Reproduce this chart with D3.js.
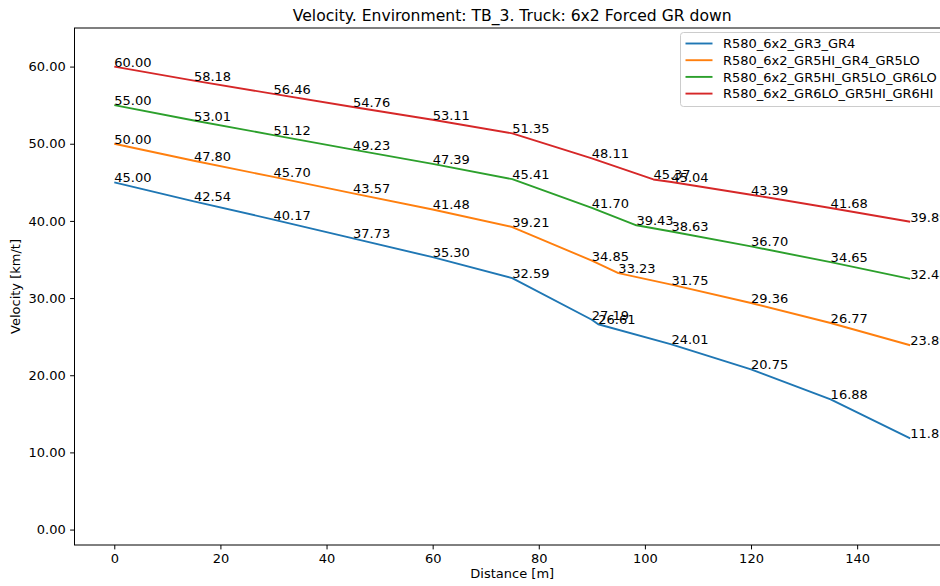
<!DOCTYPE html>
<html>
<head>
<meta charset="utf-8">
<script src="https://cdn.jsdelivr.net/npm/d3@7"></script>
<style>
  body { margin: 0; background: #fff; }
  svg { display: block; font-family: "DejaVu Sans", sans-serif; }
</style>
</head>
<body>
<div id="container"></div>
<script>
// data
var seriesNames = ["R580_6x2_GR3_GR4", "R580_6x2_GR5HI_GR4_GR5LO",
                   "R580_6x2_GR5HI_GR5LO_GR6LO", "R580_6x2_GR6LO_GR5HI_GR6HI"];

var distBlue   = [0, 15, 30, 45, 60, 75, 90, 91.2, 105, 120, 135, 150];
var distOrange = [0, 15, 30, 45, 60, 75, 90, 95.0, 105, 120, 135, 150];
var distGreen  = [0, 15, 30, 45, 60, 75, 90, 98.4, 105, 120, 135, 150];
var distRed    = [0, 15, 30, 45, 60, 75, 90, 101.6, 105, 120, 135, 150];

var velBlue   = [45.00, 42.54, 40.17, 37.73, 35.30, 32.59, 27.19, 26.61, 24.01, 20.75, 16.88, 11.83];
var velOrange = [50.00, 47.80, 45.70, 43.57, 41.48, 39.21, 34.85, 33.23, 31.75, 29.36, 26.77, 23.89];
var velGreen  = [55.00, 53.01, 51.12, 49.23, 47.39, 45.41, 41.70, 39.43, 38.63, 36.70, 34.65, 32.48];
var velRed    = [60.00, 58.18, 56.46, 54.76, 53.11, 51.35, 48.11, 45.37, 45.04, 43.39, 41.68, 39.89];

var xTicks = [0, 20, 40, 60, 80, 100, 120, 140];
var yTicks = [0, 10, 20, 30, 40, 50, 60];

var color = ["#1f77b4", "#ff7f0e", "#2ca02c", "#d62728"];

var series = [
    { name: seriesNames[0], x: distBlue,   y: velBlue },
    { name: seriesNames[1], x: distOrange, y: velOrange },
    { name: seriesNames[2], x: distGreen,  y: velGreen },
    { name: seriesNames[3], x: distRed,    y: velRed }
];

var svg_width = 940,
    svg_height = 586,
    fs = 13;

// axes box (right side goes past the picture edge, like the original)
var axL = 74.5, axR = 950, axT = 28, axB = 545;

var x = d3.scaleLinear().domain([-7.5, 157.5]).range([axL, axR]);
var y = d3.scaleLinear().domain([-2, 65]).range([axB, axT]);

var svg = d3.select("#container").append("svg")
    .attr("width", svg_width)
    .attr("height", svg_height);

svg.append("clipPath").attr("id", "plot")
   .append("rect")
   .attr("x", axL).attr("y", axT)
   .attr("width", axR - axL).attr("height", axB - axT);

// lines
var line = d3.line()
    .x(function(d) { return x(d[0]) })
    .y(function(d) { return y(d[1]) });

var g = svg.append("g").attr("clip-path", "url(#plot)");

series.forEach(function(s, i) {
    var pts = s.x.map(function(v, j) { return [v, s.y[j]] });
    g.append("path")
        .attr("d", line(pts))
        .attr("fill", "none")
        .attr("stroke", color[i])
        .attr("stroke-width", 1.9)
        .attr("stroke-linejoin", "round");
});

// value labels at every point (left / baseline like matplotlib text)
series.forEach(function(s) {
    svg.append("g").selectAll("text")
        .data(s.x.map(function(v, j) { return [v, s.y[j]] }))
        .enter().append("text")
        .attr("x", function(d) { return x(d[0]) })
        .attr("y", function(d) { return y(d[1]) })
        .attr("font-size", fs)
        .attr("fill", "#000")
        .text(function(d) { return d[1].toFixed(2) });
});

// axes
var xAxis = d3.axisBottom(x).tickValues(xTicks).tickSize(4.4).tickPadding(4.4)
    .tickFormat(d3.format("d"));
var yAxis = d3.axisLeft(y).tickValues(yTicks).tickSize(4.4).tickPadding(4.4)
    .tickFormat(d3.format(".2f"));

var gx = svg.append("g").attr("transform", "translate(0," + axB + ")").call(xAxis);
var gy = svg.append("g").attr("transform", "translate(" + axL + ",0)").call(yAxis);

[gx, gy].forEach(function(a) {
    a.select(".domain").remove();
    a.selectAll("line").attr("stroke", "#000").attr("stroke-width", 1);
    a.selectAll("text").attr("font-size", fs).attr("fill", "#000")
        .attr("font-family", "DejaVu Sans, sans-serif");
});

// spines
svg.append("rect")
    .attr("x", axL).attr("y", axT)
    .attr("width", axR - axL).attr("height", axB - axT)
    .attr("fill", "none").attr("stroke", "#000").attr("stroke-width", 1);

// titles
svg.append("text")
    .attr("x", (axL + axR) / 2).attr("y", 21)
    .attr("text-anchor", "middle")
    .attr("font-size", 15.6)
    .text("Velocity. Environment: TB_3. Truck: 6x2 Forced GR down");

svg.append("text")
    .attr("x", (axL + axR) / 2).attr("y", 578)
    .attr("text-anchor", "middle")
    .attr("font-size", fs)
    .text("Distance [m]");

svg.append("text")
    .attr("transform", "translate(20," + (axT + axB) / 2 + ") rotate(-90)")
    .attr("text-anchor", "middle")
    .attr("font-size", fs)
    .text("Velocity [km/t]");

// legend
var legend = svg.append("g").attr("transform", "translate(680.5,32.5)");

legend.append("rect")
    .attr("width", 263).attr("height", 74)
    .attr("rx", 3)
    .attr("fill", "#fff").attr("fill-opacity", 0.8)
    .attr("stroke", "#cccccc").attr("stroke-width", 1);

var items = legend.selectAll(".item")
    .data(series)
    .enter().append("g")
    .attr("class", "item")
    .attr("transform", function(_, i) { return "translate(0," + (11 + i * 16.7) + ")" });

items.append("line")
    .attr("x1", 5).attr("x2", 32)
    .attr("stroke", function(_, i) { return color[i] })
    .attr("stroke-width", 1.9);

items.append("text")
    .attr("x", 42.5)
    .attr("dy", "0.36em")
    .attr("font-size", fs)
    .text(function(d) { return d.name });
</script>
</body>
</html>
